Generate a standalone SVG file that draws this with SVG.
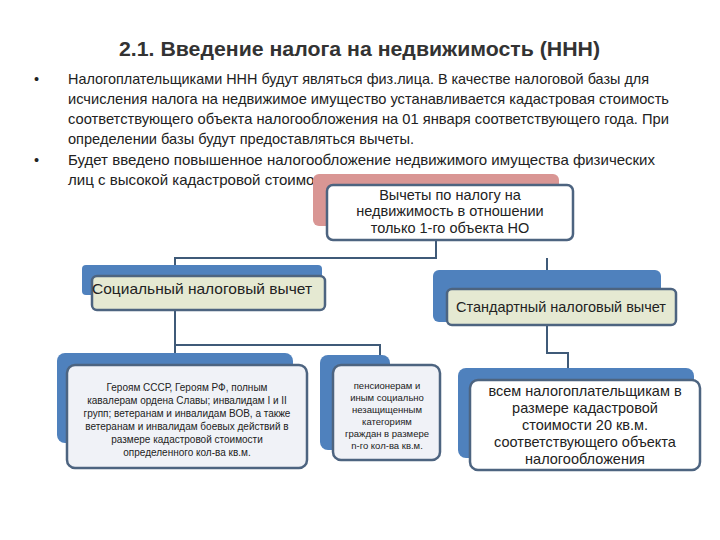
<svg xmlns="http://www.w3.org/2000/svg" width="720" height="540" viewBox="0 0 720 540">
<style>
text{font-family:"Liberation Sans",Arial,sans-serif;fill:#222}
.b{font-size:14.5px}
.back{fill:#4f81bd}
.front{stroke:#4d6480;stroke-width:2.5}
.c{fill:none;stroke:#3f5a78;stroke-width:2}
</style>
<rect width="720" height="540" fill="#fff"/>
<text x="119" y="56" textLength="481" lengthAdjust="spacingAndGlyphs" style="font-size:20px;font-weight:bold;fill:#333">2.1. Введение налога на недвижимость (ННН)</text>
<g style="font-size:14.5px">
<text x="34" y="84">•</text>
<text x="68" y="84" textLength="581" lengthAdjust="spacingAndGlyphs">Налогоплательщиками ННН будут являться физ.лица. В качестве налоговой базы для</text>
<text x="68" y="104" textLength="601" lengthAdjust="spacingAndGlyphs">исчисления налога на недвижимое имущество устанавливается кадастровая стоимость</text>
<text x="68" y="124" textLength="601" lengthAdjust="spacingAndGlyphs">соответствующего объекта налогообложения на 01 января соответствующего года. При</text>
<text x="68" y="144" textLength="346" lengthAdjust="spacingAndGlyphs">определении базы будут предоставляться вычеты.</text>
<text x="34" y="165">•</text>
<text x="68" y="165" textLength="587" lengthAdjust="spacingAndGlyphs">Будет введено повышенное налогообложение недвижимого имущества физических</text>
<text x="68" y="185" textLength="280" lengthAdjust="spacingAndGlyphs">лиц с высокой кадастровой стоимостью</text>
</g>
<g id="connectors">
<path class="c" d="M436 240V258H175V276M547 258V272"/>
<path class="c" d="M175 310V345H175V365M175 345H380V358"/>
<path class="c" d="M547 325V353H568V372"/>
</g>
<g id="top">
<rect x="313" y="174" width="246" height="52" rx="6" fill="#d99694"/>
<rect class="front" x="327" y="185" width="246" height="55" rx="6" fill="#fff"/>
<text x="450" y="200" text-anchor="middle" class="b">Вычеты по налогу на</text>
<text x="450" y="216" text-anchor="middle" class="b">недвижимость в отношении</text>
<text x="450" y="233" text-anchor="middle" class="b">только 1-го объекта НО</text>
</g>
<g id="social">
<rect class="back" x="82" y="265" width="240" height="30" rx="4"/>
<rect class="front" x="92" y="276" width="233" height="34" rx="5" fill="#e5e9d2"/>
<text x="202" y="294" text-anchor="middle" class="b" textLength="220" lengthAdjust="spacingAndGlyphs">Социальный налоговый вычет</text>
</g>
<g id="standard">
<rect class="back" x="433" y="270" width="228" height="52" rx="6"/>
<rect class="front" x="447" y="289" width="229" height="36" rx="5" fill="#e5e9d2"/>
<text x="561" y="312" text-anchor="middle" class="b" textLength="210" lengthAdjust="spacingAndGlyphs">Стандартный налоговый вычет</text>
</g>
<g id="heroes" style="font-size:10px">
<rect class="back" x="57" y="353" width="236" height="90" rx="8"/>
<rect class="front" x="67" y="365" width="240" height="103" rx="8" fill="#f0f2f7"/>
<g text-anchor="middle">
<text x="187" y="391">Героям СССР, Героям РФ, полным</text>
<text x="187" y="404">кавалерам ордена Славы; инвалидам I и II</text>
<text x="187" y="417">групп; ветеранам и инвалидам ВОВ, а также</text>
<text x="187" y="430">ветеранам и инвалидам боевых действий в</text>
<text x="187" y="443">размере кадастровой стоимости</text>
<text x="187" y="456">определенного кол-ва кв.м.</text>
</g>
</g>
<g id="pensioners" style="font-size:9.5px">
<rect class="back" x="320" y="355" width="70" height="95" rx="8"/>
<rect class="front" x="333" y="365" width="107" height="95" rx="8" fill="#f0f2f7"/>
<g text-anchor="middle">
<text x="387" y="389">пенсионерам и</text>
<text x="387" y="401">иным социально</text>
<text x="387" y="413">незащищенным</text>
<text x="387" y="425">категориям</text>
<text x="387" y="437">граждан в размере</text>
<text x="387" y="449">n-го кол-ва кв.м.</text>
</g>
</g>
<g id="all" style="font-size:14.5px">
<rect class="back" x="458" y="368" width="236" height="90" rx="8"/>
<rect class="front" x="470" y="380" width="230" height="90" rx="8" fill="#fff"/>
<g text-anchor="middle">
<text x="585" y="396">всем налогоплательщикам в</text>
<text x="585" y="413">размере кадастровой</text>
<text x="585" y="430">стоимости 20 кв.м.</text>
<text x="585" y="447">соответствующего объекта</text>
<text x="585" y="464">налогообложения</text>
</g>
</g>
</svg>
